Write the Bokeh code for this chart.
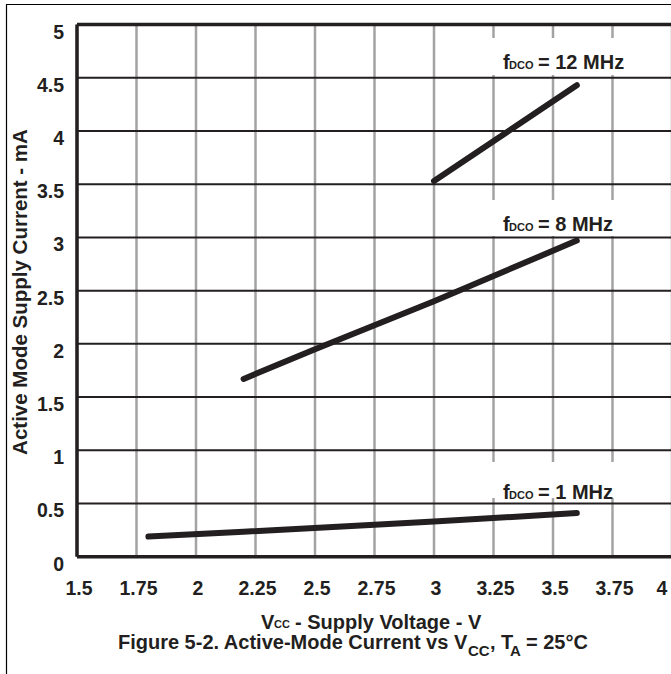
import math
from bokeh.plotting import figure
from bokeh.models import Range1d, Label, BoxAnnotation, ColumnDataSource
from bokeh.core.properties import value
from bokeh.embed import file_html
from bokeh.resources import INLINE

# ---- data ----
x_ticks = [1.5, 1.75, 2.0, 2.25, 2.5, 2.75, 3.0, 3.25, 3.5, 3.75, 4.0]
x_tick_labels = ["1.5", "1.75", "2", "2.25", "2.5", "2.75", "3", "3.25", "3.5", "3.75", "4"]
y_ticks = [0, 0.5, 1.0, 1.5, 2.0, 2.5, 3.0, 3.5, 4.0, 4.5, 5.0]
y_tick_labels = ["0", "0.5", "1", "1.5", "2", "2.5", "3", "3.5", "4", "4.5", "5"]

vcc_1mhz = [1.8, 2.2, 2.75, 3.0, 3.6]
icc_1mhz = [0.19, 0.235, 0.30, 0.33, 0.41]
vcc_8mhz = [2.2, 2.5, 3.0, 3.6]
icc_8mhz = [1.67, 1.95, 2.40, 2.97]
vcc_12mhz = [3.0, 3.6]
icc_12mhz = [3.53, 4.43]

series_names = ["12 MHz", "8 MHz", "1 MHz"]

INK = "#231f20"
GRAY = "#a3a3a3"
FONT = "Liberation Sans"

# ---- layout (pixel geometry of the page) ----
W, H = 671, 674
SHX, SHY = 2.5, 5.5       # page offset at which the canvas lands
X0, SX = 79.0, 238.0      # page pixel of x=1.5, pixels per volt
Y0, SY = 561.7, 106.43    # page pixel of y=0, pixels per mA


def px2x(px):
    return x_ticks[0] + (px - X0) / SX


def py2y(py):
    return (Y0 - py) / SY


p = figure(width=W, height=H, output_backend="svg", toolbar_location=None, title=None,
           x_axis_location=None, y_axis_location=None,
           x_range=Range1d(px2x(SHX), px2x(W + SHX)), y_range=Range1d(py2y(H + SHY), py2y(SHY)),
           min_border=0, min_border_left=0, min_border_right=0,
           min_border_top=0, min_border_bottom=0)
p.grid.visible = False
p.outline_line_color = None
p.background_fill_color = "white"
p.border_fill_color = "white"

x_lo, x_hi = x_ticks[0], x_ticks[-1]
y_lo, y_hi = y_ticks[0], y_ticks[-1]

# outer figure frame (left and top)
p.segment(x0=[px2x(8.5), px2x(8)], y0=[py2y(9.5), py2y(9.5)],
          x1=[px2x(8.5), px2x(W + 10)], y1=[py2y(H + 10), py2y(9.5)],
          line_color="black", line_width=1.2)

# grid
p.segment(x0=x_ticks, y0=[y_lo] * len(x_ticks), x1=x_ticks, y1=[y_hi] * len(x_ticks),
          line_color=GRAY, line_width=2.5)
p.segment(x0=[x_lo] * len(y_ticks), y0=y_ticks, x1=[x_hi] * len(y_ticks), y1=y_ticks,
          line_color=INK, line_width=2)
# frame lines
p.segment(x0=[x_lo, x_lo, x_lo], y0=[y_lo, y_lo, y_hi], x1=[x_lo, x_hi, x_hi], y1=[y_hi, y_lo, y_hi],
          line_color=INK, line_width=3.5)

# tick labels (the last x label is pulled inside the canvas edge)
xt_src = ColumnDataSource(dict(
    x=x_ticks, y=[py2y(593)] * len(x_ticks), text=x_tick_labels,
    dx=[2] * (len(x_ticks) - 1) + [-10]))
p.text(x="x", y="y", text="text", x_offset="dx", source=xt_src,
       text_align="center", text_baseline="alphabetic", text_font=value(FONT),
       text_font_style="bold", text_font_size="19.5px", text_color=INK)
p.text(x=[px2x(66)] * len(y_ticks), y=y_ticks, text=y_tick_labels, y_offset=7,
       text_align="right", text_baseline="alphabetic", text_font=value(FONT),
       text_font_style="bold", text_font_size="19.5px", text_color=INK)

# curves
for xs, ys in ((vcc_1mhz, icc_1mhz), (vcc_8mhz, icc_8mhz), (vcc_12mhz, icc_12mhz)):
    p.line(x=xs, y=ys, line_color=INK, line_width=6, line_cap="round", line_join="round")

# series labels with white background
lab_px = 505
lab_base_px = [67, 229, 497]
box_px = [(43, 80), (205, 241), (467, 503)]
for name, bpx, (bt, bb) in zip(series_names, lab_base_px, box_px):
    p.add_layout(BoxAnnotation(left=px2x(493), right=px2x(632), bottom=py2y(bb), top=py2y(bt),
                               fill_color="white", fill_alpha=1.0, line_color=None))
    p.add_layout(Label(x=px2x(lab_px), y=py2y(bpx), text="f", text_font=FONT, text_font_style="bold",
                       text_font_size="20px", text_color=INK, text_baseline="alphabetic"))
    p.add_layout(Label(x=px2x(lab_px + 6), y=py2y(bpx + 3), text="DCO", text_font=FONT,
                       text_font_style="bold", text_font_size="11px", text_color=INK,
                       text_baseline="alphabetic"))
    p.add_layout(Label(x=px2x(lab_px + 35), y=py2y(bpx), text="= " + name, text_font=FONT,
                       text_font_style="bold", text_font_size="20px", text_color=INK,
                       text_baseline="alphabetic"))

# y axis label
p.add_layout(Label(x=px2x(21), y=py2y(297), text="Active Mode Supply Current - mA",
                   angle=math.pi / 2, text_align="center", text_baseline="alphabetic",
                   text_font=FONT, text_font_style="bold", text_font_size="20.5px", text_color=INK))

# x axis label
p.add_layout(Label(x=px2x(263), y=py2y(627), text="V", text_font=FONT, text_font_style="bold",
                   text_font_size="20px", text_color=INK, text_baseline="alphabetic"))
p.add_layout(Label(x=px2x(276), y=py2y(629), text="CC", text_font=FONT, text_font_style="bold",
                   text_font_size="11px", text_color=INK, text_baseline="alphabetic"))
p.add_layout(Label(x=px2x(297), y=py2y(627), text="- Supply Voltage - V", text_font=FONT,
                   text_font_style="bold", text_font_size="20px", text_color=INK,
                   text_baseline="alphabetic"))

# caption
p.add_layout(Label(x=px2x(470), y=py2y(646.5), text="Figure 5-2. Active-Mode Current vs V",
                   text_align="right", text_font=FONT, text_font_style="bold",
                   text_font_size="20px", text_color=INK, text_baseline="alphabetic"))
p.add_layout(Label(x=px2x(470), y=py2y(655), text="CC", text_font=FONT, text_font_style="bold",
                   text_font_size="15px", text_color=INK, text_baseline="alphabetic"))
p.add_layout(Label(x=px2x(492), y=py2y(646.5), text=", T", text_font=FONT, text_font_style="bold",
                   text_font_size="20px", text_color=INK, text_baseline="alphabetic"))
p.add_layout(Label(x=px2x(512), y=py2y(655), text="A", text_font=FONT, text_font_style="bold",
                   text_font_size="15px", text_color=INK, text_baseline="alphabetic"))
p.add_layout(Label(x=px2x(528), y=py2y(646.5), text="= 25°C", text_font=FONT, text_font_style="bold",
                   text_font_size="20px", text_color=INK, text_baseline="alphabetic"))

open("out.html", "w").write(file_html(p, INLINE))
